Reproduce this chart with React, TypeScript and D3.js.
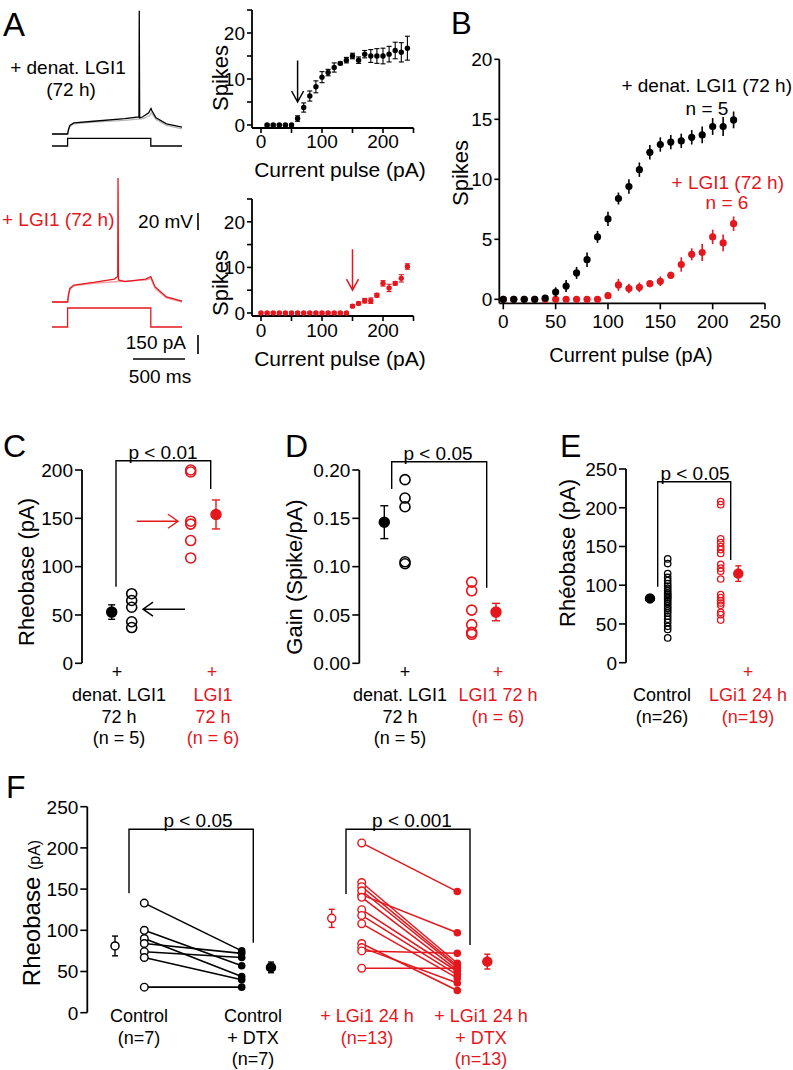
import React from "react";
import * as d3 from "d3";

const FONT = "'Liberation Sans', Arial, Helvetica, sans-serif";
const RED = "#e3171d";
const PINK = "#f3a3a6";
const GREY = "#b8b8b8";

type Pt = [number, number];

// ---------- A: example traces [ms, mV] and current steps [ms, pA]
const denatVm: Pt[] = [[0, -70], [150, -70], [158, -65], [172, -60], [210, -57], [400, -55], [700, -52], [836, -50], [839, 75], [843, -51], [870, -50], [930, -45], [952, -40], [962, -43], [1000, -51], [1100, -58], [1250, -62]];
const denatGreyVm: Pt[] = [[0, -70], [150, -70], [158, -66], [172, -61], [210, -58], [400, -56], [700, -54], [880, -52], [940, -48], [955, -45], [1000, -53], [1100, -60], [1250, -64]];
const denatStep: Pt[] = [[0, 0], [150, 0], [150, 60], [950, 60], [950, 0], [1250, 0]];
const lgiVm: Pt[] = [[0, -70], [150, -70], [158, -62], [172, -54], [210, -50], [400, -47], [600, -43], [632, -40], [635, 76], [639, -44], [700, -46], [900, -43], [950, -40], [990, -52], [1100, -64], [1250, -69]];
const lgiPinkVm: Pt[] = [[0, -70], [150, -70], [158, -63], [172, -55], [210, -51], [400, -48], [640, -46], [900, -44], [950, -42], [990, -54], [1100, -65], [1250, -70]];
const lgiStep: Pt[] = [[0, 0], [150, 0], [150, 150], [950, 150], [950, 0], [1250, 0]];

// ---------- A: spikes vs current pulse
const aTopI = [10, 20, 30, 40, 50, 60, 70, 80, 90, 100, 110, 120, 130, 140, 150, 160, 170, 180, 190, 200, 210, 220, 230, 240];
const aTopSpikes = [0, 0, 0, 0, 0, 1.4, 3.8, 6.3, 8.3, 10.4, 11.4, 12.5, 13.4, 14.1, 15.0, 14.1, 15.4, 15.0, 15.0, 15.0, 15.4, 16.2, 15.8, 16.7];
const aTopSem = [0.2, 0.2, 0.2, 0.2, 0.2, 0.6, 1.0, 1.1, 1.3, 1.2, 0.7, 1.0, 0.3, 0.6, 0.6, 0.7, 0.8, 1.4, 1.6, 1.7, 1.7, 1.8, 2.1, 2.6];
const aBotI = [0, 10, 20, 30, 40, 50, 60, 70, 80, 90, 100, 110, 120, 130, 140, 150, 160, 170, 180, 190, 200, 210, 220, 230, 240];
const aBotSpikes = [0, 0, 0, 0, 0, 0, 0, 0, 0, 0, 0, 0, 0, 0, 0, 1.5, 2.1, 2.7, 2.7, 3.9, 6.5, 5.5, 6.5, 7.6, 10.2];
const aBotSem = [0.2, 0.2, 0.2, 0.2, 0.2, 0.2, 0.2, 0.2, 0.2, 0.2, 0.2, 0.2, 0.2, 0.2, 0.2, 0.3, 0.3, 0.5, 0.6, 0.4, 0.6, 0.8, 0.4, 0.8, 0.6];

// ---------- B: mean curves
const bI = [0, 10, 20, 30, 40, 50, 60, 70, 80, 90, 100, 110, 120, 130, 140, 150, 160, 170, 180, 190, 200, 210, 220];
const bDenat = [0, 0, 0, 0, 0.1, 0.6, 1.1, 2.2, 3.3, 5.2, 6.7, 8.4, 9.4, 10.8, 12.25, 12.9, 13.1, 13.2, 13.5, 13.7, 14.4, 14.4, 14.95];
const bDenatSem = [0.1, 0.1, 0.1, 0.1, 0.2, 0.4, 0.5, 0.5, 0.6, 0.5, 0.6, 0.5, 0.6, 0.6, 0.6, 0.6, 0.6, 0.6, 0.6, 0.7, 0.7, 0.8, 0.7];
const bLgi = [0, 0, 0, 0, 0, 0, 0, 0, 0, 0, 0.3, 1.2, 0.9, 1.0, 1.3, 1.5, 2.0, 2.9, 3.75, 3.9, 5.2, 4.7, 6.3];
const bLgiSem = [0.05, 0.05, 0.05, 0.05, 0.05, 0.05, 0.05, 0.05, 0.05, 0.05, 0.2, 0.5, 0.4, 0.4, 0.3, 0.4, 0.3, 0.6, 0.5, 0.7, 0.6, 0.7, 0.6];

// ---------- C: rheobase (pA)
const cDenat = [72, 65, 58, 43, 37];
const cLgi = [200, 198, 147, 144, 127, 109];
const cDenatMean = 53, cDenatSem = 7.5;
const cLgiMean = 154, cLgiSem = 15;

// ---------- D: gain (spike/pA)
const dDenat = [0.19, 0.171, 0.162, 0.105, 0.103];
const dLgi = [0.084, 0.075, 0.055, 0.04, 0.032, 0.03];
const dDenatMean = 0.146, dDenatSem = 0.017;
const dLgiMean = 0.053, dLgiSem = 0.009;

// ---------- E: rheobase, 24 h
const eControl = [134, 128, 115, 110, 106, 102, 99, 96, 93, 90, 88, 86, 84, 82, 79, 76, 73, 70, 67, 64, 60, 56, 52, 47, 43, 32];
const eLgi = [208, 204, 160, 155, 150, 146, 141, 127, 122, 118, 108, 88, 84, 80, 77, 74, 65, 62, 55];
const eControlMean = 83, eControlSem = 3;
const eLgiMean = 115, eLgiSem = 10;

// ---------- F: paired rheobase before / after DTX
const fCtlBefore = [133, 100, 90, 84, 74, 67, 31];
const fCtlAfter = [75, 57, 44, 72, 67, 40, 31];
const fLgiBefore = [206, 143, 158, 153, 148, 140, 125, 118, 108, 84, 79, 75, 54];
const fLgiAfter = [147, 97, 60, 57, 55, 52, 50, 46, 42, 27, 36, 72, 54];
const fMeans = [81, 55, 114.5, 62];
const fSems = [12, 6.5, 11, 9];

type Sc = d3.ScaleLinear<number, number>;

function T({ x, y, children, size = 18, anchor = "middle", fill = "#000" }: any) {
  return (
    <text x={x} y={y} fontSize={size} textAnchor={anchor} fill={fill}>
      {children}
    </text>
  );
}

function YAxis({ scale, x, ticks, labels, fmt, size = 19, len = 6, bottom }: any) {
  const [d0, d1] = scale.domain();
  return (
    <g>
      <line x1={x} x2={x} y1={scale(d1)} y2={bottom ?? scale(d0)} stroke="#000" strokeWidth={1.8} />
      {ticks.map((t: number) => (
        <line key={t} x1={x - len} x2={x} y1={scale(t)} y2={scale(t)} stroke="#000" strokeWidth={1.6} />
      ))}
      {labels.map((t: number) => (
        <text key={t} x={x - len - 2} y={scale(t)} dy="0.36em" textAnchor="end" fontSize={size}>
          {fmt ? fmt(t) : t}
        </text>
      ))}
    </g>
  );
}

function XAxis({ scale, y, ticks, labels, size = 19, len = 6, left, labelY }: any) {
  const [d0, d1] = scale.domain();
  return (
    <g>
      <line x1={left ?? scale(d0)} x2={scale(d1)} y1={y} y2={y} stroke="#000" strokeWidth={1.8} />
      {ticks.map((t: number) => (
        <line key={t} x1={scale(t)} x2={scale(t)} y1={y} y2={y + len} stroke="#000" strokeWidth={1.6} />
      ))}
      {labels.map((t: number) => (
        <text key={t} x={scale(t)} y={labelY} textAnchor="middle" fontSize={size}>
          {t}
        </text>
      ))}
    </g>
  );
}

function YTitle({ x, y, size = 22, children }: any) {
  return (
    <text transform={`translate(${x},${y}) rotate(-90)`} textAnchor="middle" fontSize={size}>
      {children}
    </text>
  );
}

function ErrDots({ xs, ys, vals, sems, color, r, cap, sw = 1.3 }: any) {
  return (
    <g>
      {vals.map((v: number, i: number) => {
        const cx = xs(i), y0 = ys(v - sems[i]), y1 = ys(v + sems[i]);
        return (
          <g key={i}>
            <line x1={cx} x2={cx} y1={y0} y2={y1} stroke={color} strokeWidth={sw} />
            {cap > 0 && <line x1={cx - cap} x2={cx + cap} y1={y0} y2={y0} stroke={color} strokeWidth={sw} />}
            {cap > 0 && <line x1={cx - cap} x2={cx + cap} y1={y1} y2={y1} stroke={color} strokeWidth={sw} />}
            <circle cx={cx} cy={ys(v)} r={r} fill={color} />
          </g>
        );
      })}
    </g>
  );
}

function MeanErr({ x, y, mean, sem, color, r = 5, cap = 4, open = false }: any) {
  return (
    <g>
      <line x1={x} x2={x} y1={y(mean - sem)} y2={y(mean + sem)} stroke={color} strokeWidth={1.4} />
      <line x1={x - cap} x2={x + cap} y1={y(mean - sem)} y2={y(mean - sem)} stroke={color} strokeWidth={1.4} />
      <line x1={x - cap} x2={x + cap} y1={y(mean + sem)} y2={y(mean + sem)} stroke={color} strokeWidth={1.4} />
      <circle cx={x} cy={y(mean)} r={r} fill={open ? "#fff" : color} stroke={color} strokeWidth={1.5} />
    </g>
  );
}

function OpenDots({ x, y, vals, color, r = 5, sw = 1.6 }: any) {
  return (
    <g>
      {vals.map((v: number, i: number) => (
        <circle key={i} cx={x} cy={y(v)} r={r} fill="none" stroke={color} strokeWidth={sw} />
      ))}
    </g>
  );
}

function Bracket({ x1, x2, yTop, y1, y2, label, labelX }: any) {
  return (
    <g>
      <path d={`M${x1},${y1}V${yTop}H${x2}V${y2}`} fill="none" stroke="#000" strokeWidth={1.4} />
      <text x={labelX ?? (x1 + x2) / 2} y={yTop - 2} textAnchor="middle" fontSize={19}>
        {label}
      </text>
    </g>
  );
}

function Lines({ x, y, lines, color, size = 18 }: any) {
  return (
    <g>
      {lines.map((l: string, i: number) => (
        <text key={i} x={x} y={y + i * 21.5} textAnchor="middle" fontSize={size} fill={color}>
          {l}
        </text>
      ))}
    </g>
  );
}

export default function App() {
  // ---- A traces
  const tx = d3.scaleLinear().domain([0, 1250]).range([52, 182]);
  const vTop = d3.scaleLinear().domain([-70, 76]).range([134, 10]);
  const vBot = d3.scaleLinear().domain([-70, 76]).range([302, 178]);
  const iTop = d3.scaleLinear().domain([0, 150]).range([146, 127]);
  const iBot = d3.scaleLinear().domain([0, 150]).range([327, 308]);
  const mk = (ys: Sc) => d3.line<Pt>().x((d) => tx(d[0])).y((d) => ys(d[1]));
  const mvBar = vBot(-70) - vBot(-50);
  const paBar = iBot(0) - iBot(150);
  const msBar = tx(500) - tx(0);

  // ---- A spike plots
  const xA = d3.scaleLinear().domain([0, 250]).range([261, 413.5]);
  const yAt = d3.scaleLinear().domain([0, 25]).range([125, 10]);
  const yAb = d3.scaleLinear().domain([0, 25]).range([313, 199]);

  // ---- B
  const xB = d3.scaleLinear().domain([0, 250]).range([503.3, 765]);
  const yB = d3.scaleLinear().domain([0, 20]).range([299.3, 59.3]);

  // ---- C, D, E, F scales
  const yC = d3.scaleLinear().domain([0, 200]).range([663.3, 470]);
  const yD = d3.scaleLinear().domain([0, 0.2]).range([663.3, 470]);
  const yE = d3.scaleLinear().domain([0, 250]).range([662.7, 469]);
  const yF = d3.scaleLinear().domain([0, 250]).range([1012.7, 806.7]);

  const cx = { dMean: 111.7, d: 131.7, l: 190.7, lMean: 216 };
  const dx = { dMean: 384.3, d: 405, l: 471.7, lMean: 496 };
  const ex = { cMean: 650, c: 667.7, l: 720.7, lMean: 738.3 };
  const fx = [115, 144.3, 241.7, 271, 331.7, 361.7, 457.3, 487.3];

  return (
    <svg
      width={793}
      height={1070}
      style={{ position: "absolute", left: 0, top: 0, background: "#fff" }}
      fontFamily={FONT}
    >
      {/* panel letters */}
      <T x={3} y={36} size={33} anchor="start">A</T>
      <T x={451} y={34} size={31} anchor="start">B</T>
      <T x={3} y={457} size={32} anchor="start">C</T>
      <T x={285} y={457} size={32} anchor="start">D</T>
      <T x={560} y={457} size={32} anchor="start">E</T>
      <T x={6} y={798} size={32} anchor="start">F</T>

      {/* ===== A traces ===== */}
      <path d={mk(vTop)(denatGreyVm) ?? ""} fill="none" stroke={GREY} strokeWidth={1.3} />
      <path d={mk(vTop)(denatVm) ?? ""} fill="none" stroke="#000" strokeWidth={1.3} />
      <path d={mk(iTop)(denatStep) ?? ""} fill="none" stroke="#000" strokeWidth={1.3} />
      <path d={mk(vBot)(lgiPinkVm) ?? ""} fill="none" stroke={PINK} strokeWidth={1.5} />
      <path d={mk(vBot)(lgiVm) ?? ""} fill="none" stroke={RED} strokeWidth={1.3} />
      <path d={mk(iBot)(lgiStep) ?? ""} fill="none" stroke={RED} strokeWidth={1.3} />
      <T x={68} y={74} size={19}>+ denat. LGI1</T>
      <T x={71} y={96} size={19}>(72 h)</T>
      <T x={2} y={226} size={19} anchor="start" fill={RED}>+ LGI1 (72 h)</T>
      <T x={193} y={228} size={19} anchor="end">20 mV</T>
      <line x1={198} x2={198} y1={230} y2={230 - mvBar} stroke="#000" strokeWidth={1.6} />
      <T x={186} y={349} size={19} anchor="end">150 pA</T>
      <line x1={198} x2={198} y1={354} y2={354 - paBar} stroke="#000" strokeWidth={1.6} />
      <line x1={133} x2={133 + msBar} y1={359} y2={359} stroke="#000" strokeWidth={1.6} />
      <T x={160} y={383} size={19}>500 ms</T>

      {/* ===== A top spike plot ===== */}
      <YAxis scale={yAt} x={252} ticks={[0, 5, 10, 15, 20, 25]} labels={[0, 10, 20]} size={19} len={5} bottom={128} />
      <XAxis scale={xA} y={128} ticks={[0, 50, 100, 150, 200, 250]} labels={[0, 100, 200]} size={19} len={5} left={252} labelY={148} />
      <YTitle x={228} y={78}>Spikes</YTitle>
      <T x={340} y={177} size={21}>Current pulse (pA)</T>
      <ErrDots xs={(i: number) => xA(aTopI[i])} ys={yAt} vals={aTopSpikes} sems={aTopSem} color="#000" r={2.7} cap={2.5} sw={1.1} />
      <path
        d={`M${xA(60)},${yAt(14)}V${yAt(5)}M${xA(60) - 6},${yAt(5) - 11}L${xA(60)},${yAt(5)}L${xA(60) + 6},${yAt(5) - 11}`}
        fill="none"
        stroke="#000"
        strokeWidth={1.5}
      />

      {/* ===== A bottom spike plot ===== */}
      <YAxis scale={yAb} x={252} ticks={[0, 5, 10, 15, 20, 25]} labels={[0, 10, 20]} size={19} len={5} bottom={316} />
      <XAxis scale={xA} y={316} ticks={[0, 50, 100, 150, 200, 250]} labels={[0, 100, 200]} size={19} len={5} left={252} labelY={337} />
      <YTitle x={228} y={283}>Spikes</YTitle>
      <T x={340} y={366} size={21}>Current pulse (pA)</T>
      <ErrDots xs={(i: number) => xA(aBotI[i])} ys={yAb} vals={aBotSpikes} sems={aBotSem} color={RED} r={2.7} cap={2.5} sw={1.1} />
      <path
        d={`M${xA(150)},${yAb(14)}V${yAb(5)}M${xA(150) - 6},${yAb(5) - 11}L${xA(150)},${yAb(5)}L${xA(150) + 6},${yAb(5) - 11}`}
        fill="none"
        stroke={RED}
        strokeWidth={1.5}
      />

      {/* ===== B ===== */}
      <YAxis scale={yB} x={499.3} ticks={[0, 5, 10, 15, 20]} labels={[0, 5, 10, 15, 20]} size={19} len={5} bottom={303.3} />
      <XAxis scale={xB} y={303.3} ticks={[0, 50, 100, 150, 200, 250]} labels={[0, 50, 100, 150, 200, 250]} size={19} len={6} left={499.3} labelY={328} />
      <YTitle x={468} y={173}>Spikes</YTitle>
      <T x={631} y={362} size={20}>Current pulse (pA)</T>
      <ErrDots xs={(i: number) => xB(bI[i])} ys={yB} vals={bLgi} sems={bLgiSem} color={RED} r={3.6} cap={0} sw={1.6} />
      <ErrDots xs={(i: number) => xB(bI[i])} ys={yB} vals={bDenat} sems={bDenatSem} color="#000" r={3.6} cap={0} sw={1.6} />
      <T x={792} y={92} size={19} anchor="end">+ denat. LGI1 (72 h)</T>
      <T x={707} y={115} size={19}>n = 5</T>
      <T x={784} y={189} size={19} anchor="end" fill={RED}>+ LGI1 (72 h)</T>
      <T x={727} y={209} size={19} fill={RED}>n = 6</T>

      {/* ===== C ===== */}
      <YAxis scale={yC} x={82} ticks={[0, 50, 100, 150, 200]} labels={[0, 50, 100, 150, 200]} size={19} len={7} />
      <YTitle x={34} y={572}>Rheobase (pA)</YTitle>
      <MeanErr x={cx.dMean} y={yC} mean={cDenatMean} sem={cDenatSem} color="#000" r={5} cap={3.5} />
      <OpenDots x={cx.d} y={yC} vals={cDenat} color="#000" r={5} />
      <OpenDots x={cx.l} y={yC} vals={cLgi} color={RED} r={5} />
      <MeanErr x={cx.lMean} y={yC} mean={cLgiMean} sem={cLgiSem} color={RED} r={5} cap={4} />
      <Bracket x1={116} x2={210.7} yTop={460.7} y1={586.7} y2={489} label="p < 0.01" labelX={163} />
      <path d={`M185,${yC(56)}H143M153,${yC(56) - 7}L143,${yC(56)}L153,${yC(56) + 7}`} fill="none" stroke="#000" strokeWidth={1.4} />
      <path d={`M136.7,${yC(147)}H178M168,${yC(147) - 7}L178,${yC(147)}L168,${yC(147) + 7}`} fill="none" stroke={RED} strokeWidth={1.4} />
      <T x={117} y={678} size={18}>+</T>
      <T x={212} y={678} size={18} fill={RED}>+</T>
      <Lines x={119} y={701} lines={["denat. LGI1", "72 h", "(n = 5)"]} color="#000" />
      <Lines x={213} y={701} lines={["LGI1", "72 h", "(n = 6)"]} color={RED} />

      {/* ===== D ===== */}
      <YAxis scale={yD} x={359.3} ticks={[0, 0.05, 0.1, 0.15, 0.2]} labels={[0, 0.05, 0.1, 0.15, 0.2]} fmt={d3.format(".2f")} size={19} len={7} />
      <YTitle x={302} y={577}>Gain (Spike/pA)</YTitle>
      <MeanErr x={dx.dMean} y={yD} mean={dDenatMean} sem={dDenatSem} color="#000" r={5} cap={4} />
      <OpenDots x={dx.d} y={yD} vals={dDenat} color="#000" r={5} />
      <OpenDots x={dx.l} y={yD} vals={dLgi} color={RED} r={5} />
      <MeanErr x={dx.lMean} y={yD} mean={dLgiMean} sem={dLgiSem} color={RED} r={5} cap={4} />
      <Bracket x1={391.7} x2={486.7} yTop={461.7} y1={489} y2={587.7} label="p < 0.05" labelX={438} />
      <T x={405} y={678} size={18}>+</T>
      <T x={498} y={678} size={18} fill={RED}>+</T>
      <Lines x={400} y={701} lines={["denat. LGI1", "72 h", "(n = 5)"]} color="#000" />
      <Lines x={498} y={701} lines={["LGI1 72 h", "(n = 6)"]} color={RED} />

      {/* ===== E ===== */}
      <YAxis scale={yE} x={626} ticks={[0, 50, 100, 150, 200, 250]} labels={[0, 50, 100, 150, 200, 250]} size={19} len={7} />
      <YTitle x={575} y={553}>Rhéobase (pA)</YTitle>
      <MeanErr x={ex.cMean} y={yE} mean={eControlMean} sem={eControlSem} color="#000" r={4.5} cap={2} />
      <OpenDots x={ex.c} y={yE} vals={eControl} color="#000" r={3.2} sw={1.3} />
      <OpenDots x={ex.l} y={yE} vals={eLgi} color={RED} r={3.2} sw={1.3} />
      <MeanErr x={ex.lMean} y={yE} mean={eLgiMean} sem={eLgiSem} color={RED} r={4.5} cap={3} />
      <Bracket x1={657.7} x2={730.7} yTop={481.7} y1={586.7} y2={560} label="p < 0.05" labelX={695} />
      <T x={748} y={678} size={18} fill={RED}>+</T>
      <Lines x={662} y={701} lines={["Control", "(n=26)"]} color="#000" />
      <Lines x={748} y={701} lines={["LGi1 24 h", "(n=19)"]} color={RED} />

      {/* ===== F ===== */}
      <YAxis scale={yF} x={87.3} ticks={[0, 50, 100, 150, 200, 250]} labels={[0, 50, 100, 150, 200, 250]} size={19} len={7} />
      <text transform="translate(40,913) rotate(-90)" textAnchor="middle" fontSize={24}>
        Rheobase <tspan fontSize={16}>(pA)</tspan>
      </text>
      {fCtlBefore.map((v, i) => (
        <line key={"cl" + i} x1={fx[1]} x2={fx[2]} y1={yF(v)} y2={yF(fCtlAfter[i])} stroke="#000" strokeWidth={1.6} />
      ))}
      {fLgiBefore.map((v, i) => (
        <line key={"ll" + i} x1={fx[5]} x2={fx[6]} y1={yF(v)} y2={yF(fLgiAfter[i])} stroke={RED} strokeWidth={1.5} />
      ))}
      {fCtlBefore.map((v, i) => (
        <circle key={"co" + i} cx={fx[1]} cy={yF(v)} r={3.8} fill="#fff" stroke="#000" strokeWidth={1.4} />
      ))}
      {fCtlAfter.map((v, i) => (
        <circle key={"cf" + i} cx={fx[2]} cy={yF(v)} r={3.8} fill="#000" />
      ))}
      {fLgiBefore.map((v, i) => (
        <circle key={"lo" + i} cx={fx[5]} cy={yF(v)} r={3.8} fill="#fff" stroke={RED} strokeWidth={1.4} />
      ))}
      {fLgiAfter.map((v, i) => (
        <circle key={"lf" + i} cx={fx[6]} cy={yF(v)} r={3.8} fill={RED} />
      ))}
      <MeanErr x={fx[0]} y={yF} mean={fMeans[0]} sem={fSems[0]} color="#000" r={4} cap={3} open />
      <MeanErr x={fx[3]} y={yF} mean={fMeans[1]} sem={fSems[1]} color="#000" r={4.5} cap={3} />
      <MeanErr x={fx[4]} y={yF} mean={fMeans[2]} sem={fSems[2]} color={RED} r={4} cap={3} open />
      <MeanErr x={fx[7]} y={yF} mean={fMeans[3]} sem={fSems[3]} color={RED} r={4.5} cap={3} />
      <Bracket x1={129} x2={253.3} yTop={829.3} y1={893.3} y2={942.7} label="p < 0.05" labelX={198} />
      <Bracket x1={346} x2={470} yTop={829.3} y1={894} y2={945} label="p < 0.001" labelX={412} />
      <Lines x={139} y={1022} lines={["Control", "(n=7)"]} color="#000" />
      <Lines x={253} y={1022} lines={["Control", "+ DTX", "(n=7)"]} color="#000" />
      <Lines x={367} y={1022} lines={["+ LGi1 24 h", "(n=13)"]} color={RED} />
      <Lines x={481} y={1022} lines={["+ LGi1 24 h", "+ DTX", "(n=13)"]} color={RED} />
    </svg>
  );
}
